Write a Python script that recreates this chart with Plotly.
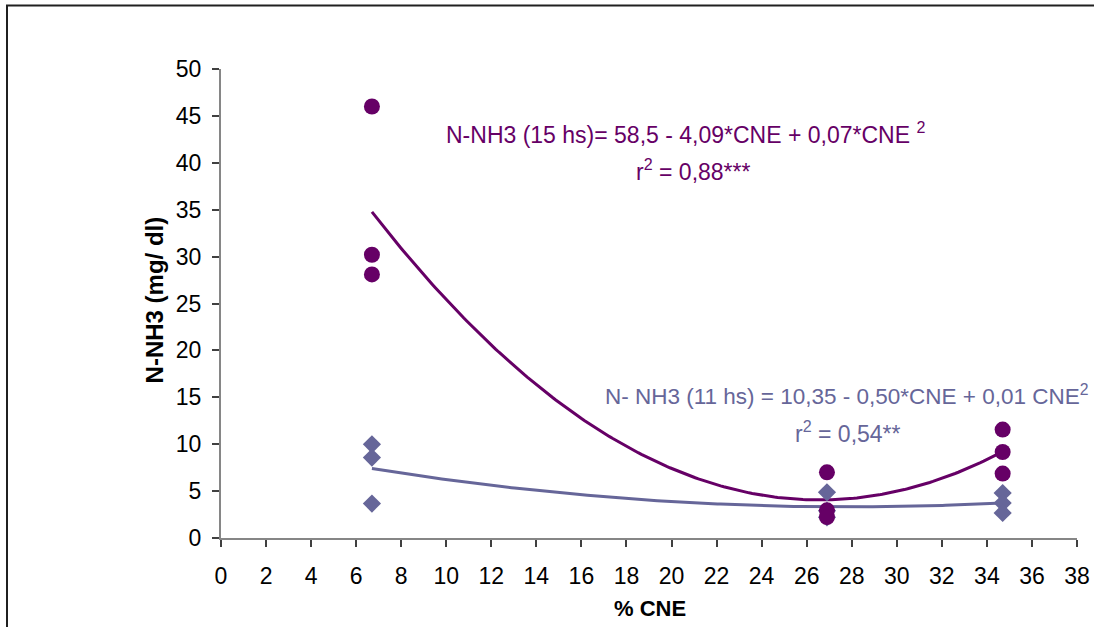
import numpy as np
import plotly.graph_objects as go

# % CNE levels (x) and N-NH3 (mg/dl) readings at each level
cne_15 = [6.7, 6.7, 6.7, 26.9, 26.9, 26.9, 34.7, 34.7, 34.7]
nh3_15 = [46.0, 30.2, 28.1, 7.0, 2.95, 2.24, 11.56, 9.17, 6.87]

cne_11 = [6.7, 6.7, 6.7, 26.9, 26.9, 26.9, 34.7, 34.7, 34.7]
nh3_11 = [9.99, 8.57, 3.67, 4.87, 2.9, 2.2, 4.8, 3.73, 2.67]

x_ticks = list(range(0, 39, 2))
y_ticks = list(range(0, 51, 5))

PURPLE = "#660066"
SLATE = "#666699"
FONT = "Arial, Liberation Sans, sans-serif"


def quad_trend(x, y, n=200):
    """Second-order polynomial trendline over the observed x range."""
    coef = np.polyfit(x, y, 2)
    xs = np.linspace(min(x), max(x), n)
    return xs, np.polyval(coef, xs)


fig = go.Figure()

# trendlines first so the markers sit on top
tx11, ty11 = quad_trend(cne_11, nh3_11)
fig.add_trace(go.Scatter(x=tx11, y=ty11, mode="lines",
                         line=dict(color=SLATE, width=3), hoverinfo="skip",
                         showlegend=False))
tx15, ty15 = quad_trend(cne_15, nh3_15)
fig.add_trace(go.Scatter(x=tx15, y=ty15, mode="lines",
                         line=dict(color=PURPLE, width=3), hoverinfo="skip",
                         showlegend=False))

fig.add_trace(go.Scatter(x=cne_11, y=nh3_11, mode="markers",
                         marker=dict(symbol="diamond", size=14, color=SLATE),
                         name="11 hs", showlegend=False))
fig.add_trace(go.Scatter(x=cne_15, y=nh3_15, mode="markers",
                         marker=dict(symbol="circle", size=16, color=PURPLE),
                         name="15 hs", showlegend=False))

axis_common = dict(
    showline=True, linecolor="#868686", linewidth=2,
    ticks="outside", ticklen=7, tickwidth=1.5, tickcolor="#404040",
    showgrid=False, zeroline=False, automargin=False,
    tickfont=dict(family=FONT, size=23, color="black"),
)

fig.update_xaxes(range=[0, 38], tickvals=x_ticks, ticklabelstandoff=9,
                 **axis_common)
fig.update_yaxes(range=[0, 50], tickvals=y_ticks, ticklabelstandoff=6,
                 **axis_common)

ann = []
# regression equations
ann.append(dict(x=444, y=133, xref="paper", yref="paper",
                text="N-NH3 (15 hs)= 58,5 - 4,09*CNE + 0,07*CNE <sup>2</sup>",
                font=dict(family=FONT, size=23, color=PURPLE),
                xanchor="left", yanchor="middle", showarrow=False))
ann.append(dict(x=693, y=170, xref="paper", yref="paper",
                text="r<sup>2</sup> = 0,88***",
                font=dict(family=FONT, size=23, color=PURPLE),
                xanchor="center", yanchor="middle", showarrow=False))
ann.append(dict(x=603, y=395, xref="paper", yref="paper",
                text="N- NH3 (11 hs) = 10,35 - 0,50*CNE + 0,01 CNE<sup>2</sup>",
                font=dict(family=FONT, size=22.5, color=SLATE),
                xanchor="left", yanchor="middle", showarrow=False))
ann.append(dict(x=848, y=432, xref="paper", yref="paper",
                text="r<sup>2</sup> = 0,54**",
                font=dict(family=FONT, size=23, color=SLATE),
                xanchor="center", yanchor="middle", showarrow=False))
# axis titles
ann.append(dict(x=650, y=608, xref="paper", yref="paper",
                text="<b>% CNE</b>",
                font=dict(family=FONT, size=22, color="black"),
                xanchor="center", yanchor="middle", showarrow=False))
ann.append(dict(x=154, y=300, xref="paper", yref="paper",
                text="<b>N-NH3 (mg/ dl)</b>", textangle=-90,
                font=dict(family=FONT, size=24, color="black"),
                xanchor="center", yanchor="middle", showarrow=False))

# convert pixel placements to paper coordinates of the plot area
L, R, T, B = 221, 1077, 68.5, 537.7
W, H = R - L, B - T
for a in ann:
    a["x"] = (a["x"] - L) / W
    a["y"] = (B - a["y"]) / H

fig.update_layout(
    template="none",
    width=1094, height=627,
    margin=dict(l=L, r=1094 - R, t=T, b=627 - B, autoexpand=False),
    paper_bgcolor="white", plot_bgcolor="white",
    annotations=ann,
    shapes=[dict(type="rect", xref="paper", yref="paper",
                 x0=(7 - L) / W, x1=(1100 - L) / W,
                 y0=(B - 640) / H, y1=(B - 5) / H,
                 line=dict(color="#202020", width=2), layer="below")],
)

fig.write_html("out.html", config={"displayModeBar": False})
